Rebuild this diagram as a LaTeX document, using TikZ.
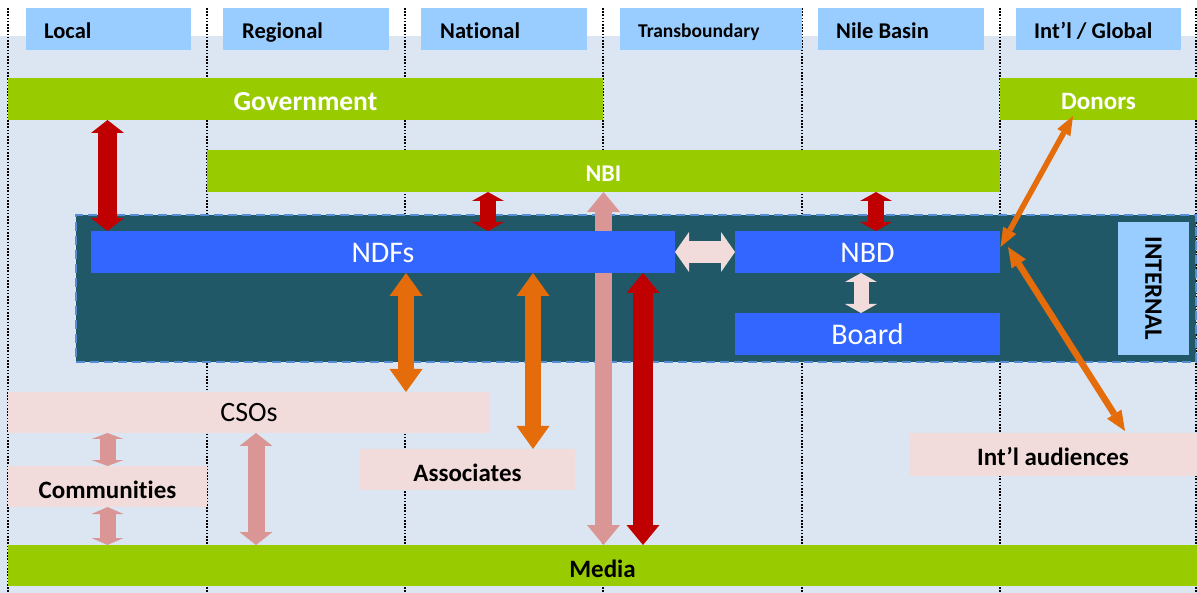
\documentclass[tikz,border=0pt]{standalone}
\usepackage{fontspec}
\setmainfont{Carlito}[Ligatures=NoCommon]
\usetikzlibrary{arrows.meta,calc}

\definecolor{bgblue}{HTML}{DCE6F2}
\definecolor{headblue}{HTML}{99CCFF}
\definecolor{leaf}{HTML}{99CC00}
\definecolor{coreteal}{HTML}{215868}
\definecolor{edgeblue}{HTML}{558ED5}
\definecolor{royal}{HTML}{3366FF}
\definecolor{blush}{HTML}{F2DCDB}
\definecolor{crimson}{HTML}{C00000}
\definecolor{amber}{HTML}{E46C0A}
\definecolor{rose}{HTML}{D99694}

\tikzset{
  box/.style={inner sep=0pt, outer sep=0pt, draw=none, minimum height=42pt},
  hdr/.style={box, fill=headblue},
  greenbar/.style={box, fill=leaf},
  bluebar/.style={box, fill=royal},
  pinkbar/.style={box, fill=blush, minimum height=41pt},
  hlab/.style={anchor=base west, inner sep=0pt, font=\bfseries\fontsize{22.5}{26}\selectfont},
  wlab/.style={anchor=base, inner sep=0pt, text=white},
  blab/.style={anchor=base, inner sep=0pt, text=black, font=\bfseries\fontsize{25}{30}\selectfont},
  fat/.style n args={3}{line width=#1,
    arrows={Triangle[length=#3,width=#2,line width=0pt]-Triangle[length=#3,width=#2,line width=0pt]}},
  divider/.style={black, line width=1.6pt, dash pattern=on 1.6pt off 1.6pt},
}

\begin{document}
\begin{tikzpicture}[x=1pt, y=-1pt]
\useasboundingbox (0,0) rectangle (1197,593);
\fill[white] (0,0) rectangle (1197,593);
\fill[bgblue] (0,36) rectangle (1197,593);

% column dividers
\foreach \cx in {8,207,405,603,802,1000,1196}
  \draw[divider] (\cx,8) -- (\cx,593);

% column headings
\node[hdr, minimum width=165pt] (hLocal) at (108.5,29) {};
\node[hdr, minimum width=166pt] (hReg)   at (306,29) {};
\node[hdr, minimum width=166pt] (hNat)   at (504,29) {};
\node[hdr, minimum width=182pt] (hTrans) at (711,29) {};
\node[hdr, minimum width=166pt] (hNile)  at (901,29) {};
\node[hdr, minimum width=165pt] (hGlob)  at (1098.5,29) {};
\node[hlab] (tLocal) at (44,39) {Local};
\node[hlab] (tReg)   at (242,39) {Regional};
\node[hlab] (tNat)   at (440,39) {National};
\node[hlab, font=\bfseries\fontsize{19.5}{24}\selectfont] (tTrans) at (638,37.5) {Transboundary};
\node[hlab] (tNile)  at (836,39) {Nile Basin};
\node[hlab] (tGlob)  at (1034,39) {Int’l / Global};

% green bars
\node[greenbar, minimum width=595pt]  (gov)   at (305.5,99) {};
\node[greenbar, minimum width=197pt]  (don)   at (1098.5,99) {};
\node[greenbar, minimum width=793pt]  (nbi)   at (603.5,171) {};
\node[greenbar, minimum width=1189pt, minimum height=41pt] (media) at (602.5,565.5) {};
\node[wlab, font=\bfseries\fontsize{27.5}{32}\selectfont] (tGov) at (305.5,111) {Government};
\node[wlab, font=\bfseries\fontsize{25}{30}\selectfont] (tDon) at (1098.5,109.5) {Donors};
\node[wlab, font=\bfseries\fontsize{24}{28}\selectfont] (tNbi) at (603.5,182) {NBI};
\node[blab] (tMedia) at (602.5,577) {Media};

% internal block
\node[box, fill=coreteal, draw=edgeblue, line width=2pt, dash pattern=on 9pt off 5pt,
      minimum width=1120pt, minimum height=147pt] (core) at (636,288.5) {};
\node[box, fill=headblue, minimum width=71pt, minimum height=133pt] (coreTag) at (1153.5,288.5) {};
\node[inner sep=0pt, rotate=-90, font=\bfseries\fontsize{25}{30}\selectfont] (tCore) at (1153.5,288.5) {INTERNAL};

% pink arrow running behind the NDFs bar
\draw[fat={17pt}{33pt}{20pt}, rose] (nbi.south) -- (nbi.south |- media.north);

% blue boxes
\node[bluebar, minimum width=584pt] (ndf)   at (383,252) {};
\node[bluebar, minimum width=265pt] (nbd)   at (867.5,252) {};
\node[bluebar, minimum width=265pt] (board) at (867.5,334) {};
\node[wlab, font=\fontsize{30}{34}\selectfont] (tNdf)   at (383,263) {NDFs};
\node[wlab, font=\fontsize{30}{34}\selectfont] (tNbd)   at (867.5,263) {NBD};
\node[wlab, font=\fontsize{30}{34}\selectfont] (tBoard) at (867.5,345) {Board};

% pink boxes
\node[pinkbar, minimum width=482pt] (cso)   at (249,412.5) {};
\node[pinkbar, minimum width=199pt] (comm)  at (107.5,486.5) {};
\node[pinkbar, minimum width=215pt] (assoc) at (467.5,469.5) {};
\node[pinkbar, minimum width=288pt, minimum height=43pt] (intl) at (1053,454.5) {};
\node[anchor=base, inner sep=0pt, font=\fontsize{28}{32}\selectfont] (tCso) at (249,421.5) {CSOs};
\node[blab] (tComm)  at (107.5,498) {Communities};
\node[blab] (tAssoc) at (467.5,481.5) {Associates};
\node[blab] (tIntl)  at (1053,465) {Int’l audiences};

% anchor points for the connectors
\coordinate (nbiL)  at ($(nbi.south west)+(281,0)$);
\coordinate (nbiR)  at ($(nbi.south west)+(669,0)$);
\coordinate (ndfC)  at ($(ndf.south west)+(315,0)$);
\coordinate (ndfA)  at ($(ndf.south west)+(442,0)$);
\coordinate (ndfM)  at ($(ndf.south west)+(552,0)$);
\coordinate (csoM)  at ($(cso.south west)+(248,0)$);
\coordinate (nbdB)  at ($(nbd.south)+(-6.5,0)$);
\coordinate (donT)  at ($(don.south)+(-25.5,-4)$);
\coordinate (nbdE1) at ($(nbd.east)+(0.5,-5)$);
\coordinate (nbdE2) at ($(nbd.east)+(8,-5)$);
\coordinate (intlT) at ($(intl.north west)+(216,-2)$);

% red links
\draw[fat={19pt}{33pt}{13pt}, crimson] (gov.south -| comm.north) -- (ndf.north -| comm.north);
\draw[fat={16pt}{32pt}{9pt}, crimson] (nbiL) -- (nbiL |- ndf.north);
\draw[fat={16pt}{32pt}{9pt}, crimson] (nbiR) -- (nbiR |- nbd.north);
\draw[fat={20pt}{33pt}{20pt}, crimson] (ndfM) -- (ndfM |- media.north);

% pale links inside the core
\draw[fat={22pt}{40pt}{14pt}, blush] (ndf.east) -- (nbd.west);
\draw[fat={15pt}{32pt}{9pt}, blush] (nbdB) -- (nbdB |- board.north);

% orange links
\draw[fat={16pt}{33pt}{23pt}, amber] (ndfC) -- (ndfC |- cso.north);
\draw[fat={16pt}{33pt}{23pt}, amber] (ndfA) -- (ndfA |- assoc.north);
\draw[fat={5.5pt}{15pt}{19pt}, amber] (donT) -- (nbdE1);
\draw[fat={6.5pt}{17pt}{20pt}, amber] (nbdE2) -- (intlT);

% pink links to the public
\draw[fat={16pt}{32pt}{6pt}, rose] (cso.south -| comm.north) -- (comm.north);
\draw[fat={16pt}{32pt}{7pt}, rose] (comm.south) -- (comm.south |- media.north);
\draw[fat={17pt}{33pt}{13pt}, rose] (csoM) -- (csoM |- media.north);
\end{tikzpicture}
\end{document}
